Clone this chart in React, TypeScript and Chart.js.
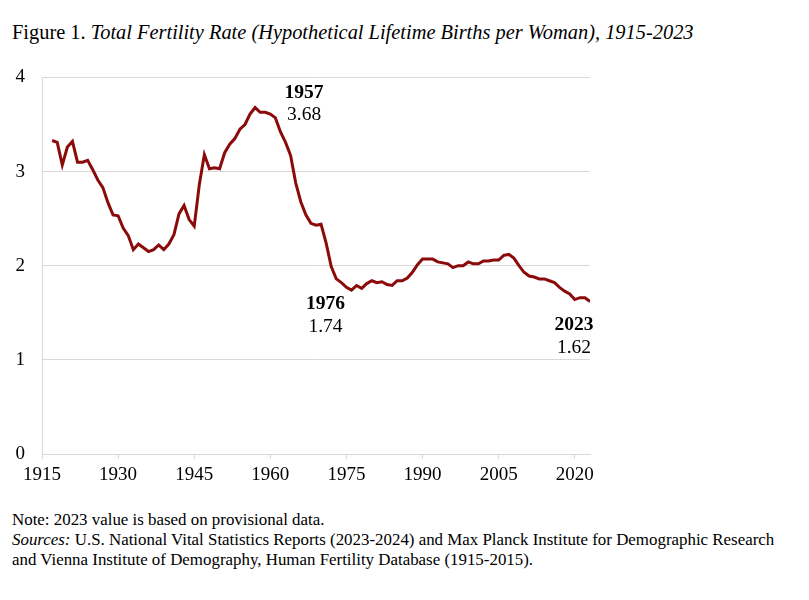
import React, { useEffect, useRef } from "react";
import { Chart, registerables } from "chart.js";

Chart.register(...registerables);

const years = [
  1917, 1918, 1919, 1920, 1921, 1922, 1923, 1924, 1925, 1926, 1927, 1928, 1929,
  1930, 1931, 1932, 1933, 1934, 1935, 1936, 1937, 1938, 1939, 1940, 1941, 1942,
  1943, 1944, 1945, 1946, 1947, 1948, 1949, 1950, 1951, 1952, 1953, 1954, 1955,
  1956, 1957, 1958, 1959, 1960, 1961, 1962, 1963, 1964, 1965, 1966, 1967, 1968,
  1969, 1970, 1971, 1972, 1973, 1974, 1975, 1976, 1977, 1978, 1979, 1980, 1981,
  1982, 1983, 1984, 1985, 1986, 1987, 1988, 1989, 1990, 1991, 1992, 1993, 1994,
  1995, 1996, 1997, 1998, 1999, 2000, 2001, 2002, 2003, 2004, 2005, 2006, 2007,
  2008, 2009, 2010, 2011, 2012, 2013, 2014, 2015, 2016, 2017, 2018, 2019, 2020,
  2021, 2022, 2023,
];

const tfr = [
  3.33, 3.31, 3.07, 3.26, 3.32, 3.1, 3.1, 3.12, 3.02, 2.91, 2.83, 2.67, 2.54,
  2.53, 2.4, 2.32, 2.17, 2.23, 2.19, 2.15, 2.17, 2.22, 2.17, 2.23, 2.33, 2.55,
  2.64, 2.49, 2.42, 2.86, 3.18, 3.03, 3.04, 3.03, 3.2, 3.29, 3.35, 3.45, 3.5,
  3.61, 3.68, 3.63, 3.63, 3.61, 3.57, 3.42, 3.31, 3.17, 2.88, 2.68, 2.54, 2.45,
  2.43, 2.44, 2.24, 1.99, 1.86, 1.82, 1.77, 1.74, 1.79, 1.76, 1.81, 1.84, 1.82,
  1.83, 1.8, 1.79, 1.84, 1.84, 1.87, 1.93, 2.01, 2.07, 2.07, 2.07, 2.04, 2.03,
  2.02, 1.98, 2.0, 2.0, 2.04, 2.02, 2.02, 2.05, 2.05, 2.06, 2.06, 2.11, 2.12,
  2.08, 2.0, 1.93, 1.89, 1.88, 1.86, 1.86, 1.84, 1.82, 1.77, 1.73, 1.7, 1.64,
  1.66, 1.66, 1.62,
];

const xTickYears = [1915, 1930, 1945, 1960, 1975, 1990, 2005, 2020];
const yTickValues = [0, 1, 2, 3, 4];

const calloutYears = [1957, 1976, 2023];
const calloutValues = [3.68, 1.74, 1.62];
const calloutLabels = ["1957", "1976", "2023"];
const calloutValueLabels = ["3.68", "1.74", "1.62"];

const LINE_COLOR = "#8b0a0a";
const GRID_COLOR = "#d9d9d9";
const SERIF = "'Liberation Serif', 'Times New Roman', serif";

// pixel offsets of the two text rows relative to each highlighted point
const calloutOffsets = [
  { dx: 49, dyTop: -15, dyBottom: 7 },
  { dx: -26, dyTop: 14, dyBottom: 37 },
  { dx: -16, dyTop: 23, dyBottom: 46 },
];

const calloutPlugin = {
  id: "callouts",
  afterDatasetsDraw(chart: any) {
    const { ctx, scales } = chart;
    ctx.save();
    ctx.textAlign = "center";
    ctx.textBaseline = "middle";
    ctx.fillStyle = "#000";
    calloutYears.forEach((yr, i) => {
      const px = scales.x.getPixelForValue(yr);
      const py = scales.y.getPixelForValue(calloutValues[i]);
      const o = calloutOffsets[i];
      ctx.font = `bold 19.5px ${SERIF}`;
      ctx.fillText(calloutLabels[i], px + o.dx, py + o.dyTop);
      ctx.font = `19.5px ${SERIF}`;
      ctx.fillText(calloutValueLabels[i], px + o.dx, py + o.dyBottom);
    });
    ctx.restore();
  },
};

function FertilityChart() {
  const ref = useRef<HTMLCanvasElement | null>(null);
  useEffect(() => {
    if (!ref.current) return;
    const chart = new Chart(ref.current, {
      type: "line",
      data: {
        datasets: [
          {
            data: years.map((y, i) => ({ x: y, y: tfr[i] })),
            borderColor: LINE_COLOR,
            borderWidth: 3,
            pointRadius: 0,
            tension: 0,
            fill: false,
          },
        ],
      },
      options: {
        animation: false,
        responsive: false,
        devicePixelRatio: 1,
        layout: { padding: { top: 20, right: 30, bottom: 0, left: 0 } },
        plugins: { legend: { display: false }, tooltip: { enabled: false } },
        scales: {
          x: {
            type: "linear",
            min: 1915,
            max: 2023,
            afterBuildTicks: (scale: any) => {
              scale.ticks = xTickYears.map((v) => ({ value: v }));
            },
            afterFit: (scale: any) => {
              scale.height = 40;
            },
            grid: {
              drawOnChartArea: false,
              drawTicks: true,
              tickLength: 5,
              color: GRID_COLOR,
            },
            border: { display: true, color: GRID_COLOR, width: 1 },
            ticks: {
              autoSkip: false,
              maxRotation: 0,
              padding: 5,
              color: "#000",
              font: { family: SERIF, size: 19 },
              callback: (v: any) => String(v),
            },
          },
          y: {
            min: 0,
            max: 4,
            afterBuildTicks: (scale: any) => {
              scale.ticks = yTickValues.map((v) => ({ value: v }));
            },
            afterFit: (scale: any) => {
              scale.width = 42;
            },
            grid: { color: GRID_COLOR, drawTicks: false, lineWidth: 1 },
            border: { display: true, color: GRID_COLOR, width: 1 },
            ticks: {
              padding: 17,
              color: "#000",
              font: { family: SERIF, size: 19 },
              callback: (v: any) => String(v),
            },
          },
        },
      },
      plugins: [calloutPlugin],
    } as any);
    return () => chart.destroy();
  }, []);
  return (
    <canvas
      ref={ref}
      width={620}
      height={445}
      style={{ position: "absolute", left: 0, top: 49, width: 620, height: 445 }}
    />
  );
}

export default function App() {
  return (
    <div
      style={{
        position: "absolute",
        left: 0,
        top: 0,
        width: 809,
        height: 600,
        background: "#fff",
        fontFamily: SERIF,
        color: "#000",
      }}
    >
      <div
        style={{
          position: "absolute",
          left: 12,
          top: 20,
          fontSize: 20.4,
          lineHeight: "24px",
          whiteSpace: "nowrap",
        }}
      >
        Figure 1. <i>Total Fertility Rate (Hypothetical Lifetime Births per Woman), 1915-2023</i>
      </div>
      <FertilityChart />
      <div
        style={{
          position: "absolute",
          left: 12,
          top: 510,
          fontSize: 16.9,
          lineHeight: "20px",
          whiteSpace: "nowrap",
        }}
      >
        <div>Note: 2023 value is based on provisional data.</div>
        <div>
          <i>Sources:</i> U.S. National Vital Statistics Reports (2023-2024) and Max Planck Institute for Demographic Research
        </div>
        <div>and Vienna Institute of Demography, Human Fertility Database (1915-2015).</div>
      </div>
    </div>
  );
}
